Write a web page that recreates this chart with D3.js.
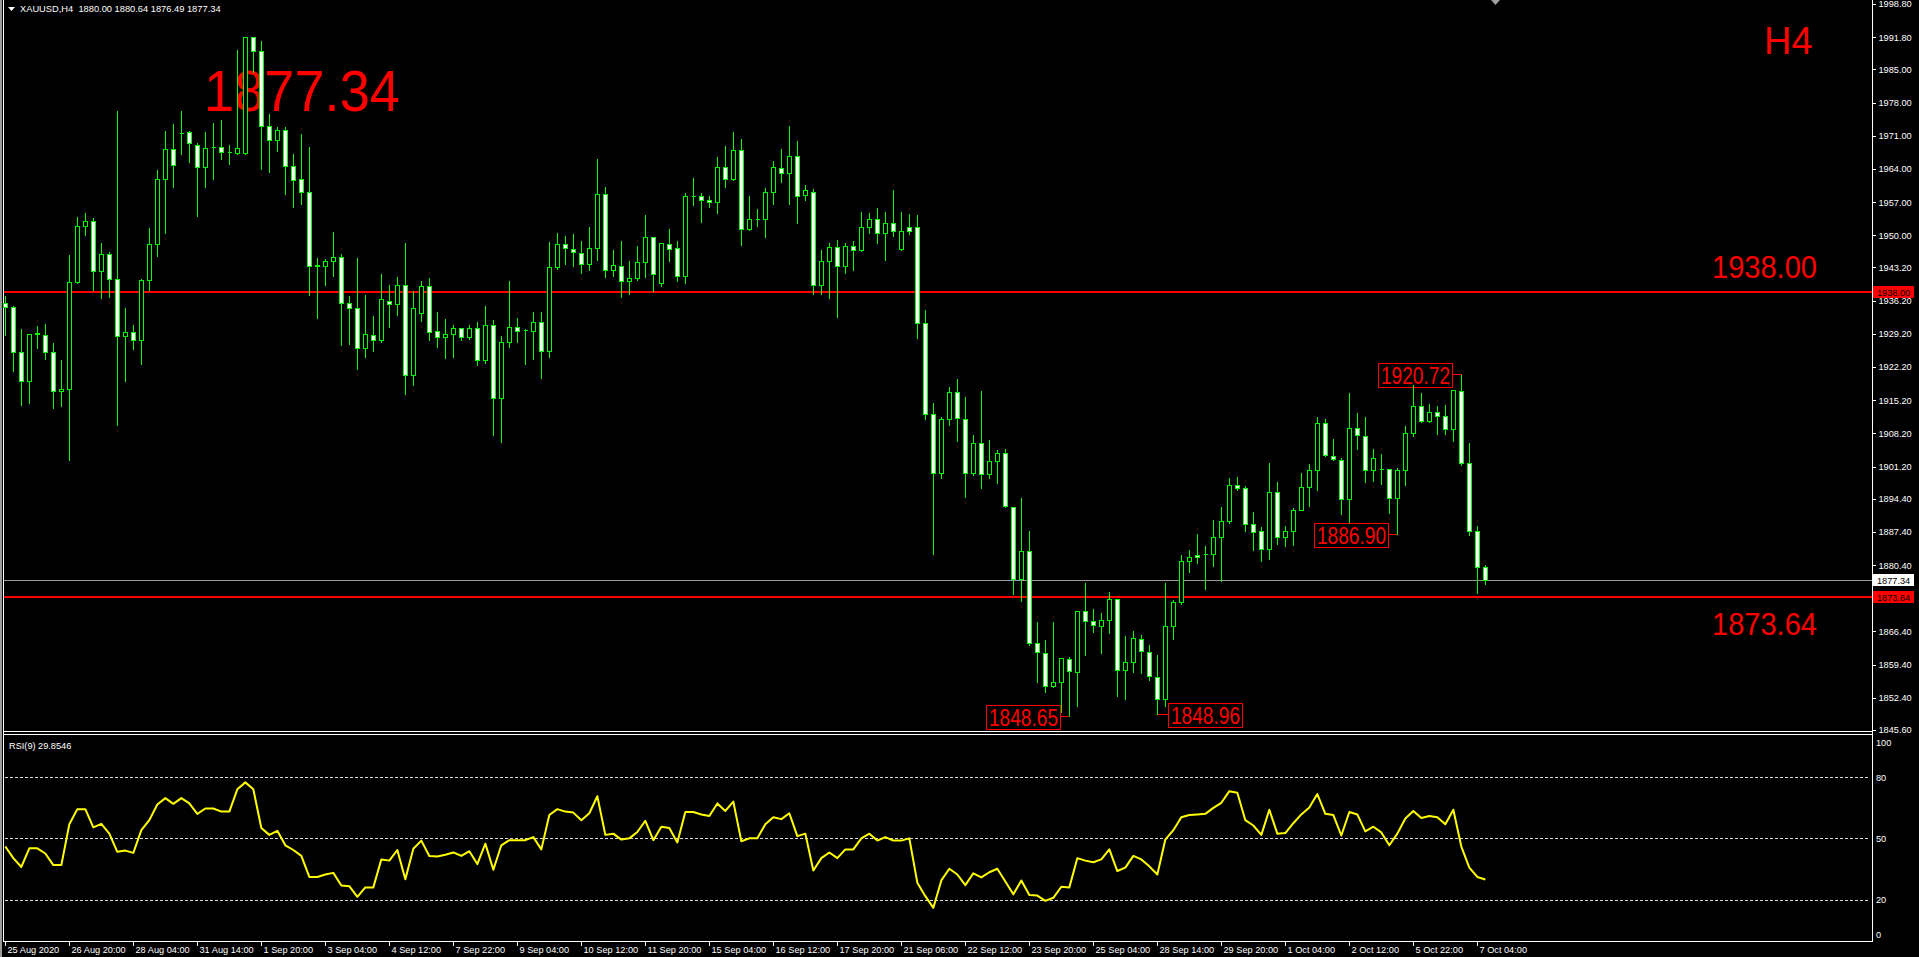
<!DOCTYPE html>
<html><head><meta charset="utf-8">
<script src="https://cdn.jsdelivr.net/npm/d3@7"></script>
<style>html,body{margin:0;padding:0;background:#000;overflow:hidden}text{font-family:"Liberation Sans",Arial,sans-serif}</style>
</head><body>
<svg id="c" width="1919" height="957"></svg>
<script>
const opens=[1935.8,1934.8,1925.3,1919.2,1929.4,1929.0,1925.3,1917.1,1917.5,1940.1,1951.9,1953.1,1942.4,1946.1,1940.8,1928.8,1929.6,1927.8,1940.5,1948.1,1961.9,1968.1,1971.6,1971.7,1969.0,1964.4,1968.6,1968.7,1967.5,1967.4,1967.4,1991.9,1988.8,1973.1,1970.0,1972.3,1964.7,1961.8,1959.1,1943.6,1943.6,1944.6,1945.5,1935.6,1934.6,1926.2,1929.0,1927.8,1936.2,1935.4,1939.6,1920.6,1933.5,1939.2,1929.7,1928.6,1929.1,1930.5,1928.6,1930.5,1923.6,1931.1,1915.6,1927.5,1930.7,1930.1,1929.9,1931.6,1925.5,1943.4,1948.2,1947.1,1946.3,1943.9,1947.3,1958.8,1942.6,1943.6,1940.4,1940.9,1944.4,1949.6,1939.9,1948.2,1947.3,1941.5,1958.3,1958.3,1957.5,1957.0,1964.4,1961.8,1968.0,1951.4,1953.5,1953.5,1959.1,1964.2,1963.2,1966.8,1958.5,1959.2,1939.5,1944.5,1947.6,1943.6,1947.8,1946.8,1951.7,1953.5,1950.4,1952.5,1947.2,1951.8,1951.8,1931.4,1912.2,1899.8,1911.2,1916.9,1911.3,1899.8,1906.2,1899.7,1902.3,1904.0,1892.7,1877.5,1883.3,1863.9,1861.8,1854.8,1855.8,1860.5,1857.9,1870.8,1868.5,1867.6,1868.9,1873.2,1858.3,1859.9,1864.9,1862.1,1856.8,1852.1,1867.5,1872.7,1881.2,1882.6,1882.7,1882.7,1886.4,1889.7,1897.4,1896.6,1889.0,1887.5,1883.8,1895.9,1886.3,1887.5,1892.1,1896.8,1900.5,1910.4,1903.5,1902.6,1894.3,1909.4,1907.7,1900.5,1900.6,1900.6,1894.6,1900.4,1908.2,1913.9,1910.8,1912.7,1911.8,1909.2,1917.2,1901.9,1887.5,1880.00];
const highs=[1937.4,1935.3,1930.5,1929.1,1931.0,1931.4,1927.5,1923.8,1946.1,1954.0,1955.0,1953.9,1948.6,1946.7,1976.4,1934.8,1931.2,1940.9,1951.8,1964.0,1972.3,1973.7,1976.4,1972.2,1969.6,1972.0,1973.9,1974.6,1969.2,1989.4,1992.1,1992.1,1991.3,1975.8,1973.1,1973.1,1967.4,1971.6,1968.9,1945.5,1945.3,1950.9,1946.3,1937.4,1945.5,1937.7,1933.1,1942.0,1939.8,1941.3,1948.6,1938.4,1940.6,1941.1,1934.1,1932.6,1931.2,1930.7,1931.2,1931.9,1935.3,1932.3,1929.0,1940.5,1932.7,1930.4,1934.1,1934.1,1948.8,1950.7,1950.0,1950.4,1949.1,1951.9,1966.3,1960.4,1947.0,1949.1,1944.7,1947.9,1954.5,1949.9,1948.3,1951.5,1949.1,1959.1,1962.3,1959.1,1958.6,1966.8,1969.0,1972.0,1970.5,1958.6,1955.7,1960.1,1965.9,1968.4,1973.3,1970.0,1960.8,1960.0,1947.1,1948.6,1949.2,1948.6,1948.9,1955.2,1954.9,1956.0,1955.2,1959.7,1955.2,1954.8,1954.5,1934.4,1914.8,1911.9,1918.2,1919.8,1916.1,1908.1,1917.4,1907.0,1904.8,1905.1,1892.7,1894.8,1887.8,1868.5,1864.9,1868.7,1860.9,1861.2,1870.8,1876.9,1871.3,1870.6,1874.9,1873.4,1865.6,1866.8,1865.9,1863.8,1861.6,1876.9,1873.3,1882.7,1883.8,1887.2,1884.7,1890.1,1892.8,1899.0,1899.2,1897.3,1891.9,1888.6,1902.1,1898.2,1888.9,1892.6,1900.0,1901.9,1911.9,1911.4,1907.2,1903.2,1916.9,1912.7,1911.8,1905.2,1904.0,1900.9,1901.1,1910.0,1918.6,1917.0,1914.5,1914.1,1914.3,1917.6,1920.72,1906.3,1888.9,1880.64];
const lows=[1929.0,1921.3,1914.1,1914.5,1926.3,1923.8,1913.6,1913.9,1902.5,1939.9,1950.0,1938.4,1936.8,1937.0,1909.9,1919.2,1925.9,1922.9,1938.4,1945.7,1950.5,1960.1,1967.1,1965.5,1954.1,1960.1,1961.8,1966.1,1965.0,1967.1,1967.1,1984.5,1964.0,1963.4,1967.8,1958.8,1955.9,1956.7,1937.3,1932.5,1939.6,1941.4,1926.9,1927.1,1921.7,1924.4,1925.5,1927.5,1930.6,1933.2,1916.4,1918.5,1931.9,1927.8,1926.5,1924.2,1924.4,1927.8,1928.1,1922.6,1923.1,1907.8,1906.3,1926.5,1927.4,1922.9,1923.8,1919.8,1924.4,1942.9,1944.0,1943.5,1942.1,1942.6,1944.8,1941.1,1941.5,1937.0,1937.5,1940.6,1941.1,1938.3,1939.2,1944.6,1940.4,1939.9,1956.4,1952.9,1955.9,1954.8,1960.1,1961.6,1947.9,1951.2,1951.9,1949.6,1956.7,1961.2,1956.5,1952.5,1957.5,1937.7,1937.7,1936.7,1932.7,1942.0,1942.7,1946.7,1950.4,1948.4,1944.8,1949.8,1946.8,1950.3,1928.3,1911.2,1882.8,1898.8,1910.0,1906.5,1894.7,1899.5,1896.6,1898.7,1897.8,1892.6,1874.3,1872.9,1863.6,1855.7,1853.7,1854.7,1849.5,1848.65,1850.7,1861.5,1866.2,1861.8,1866.0,1852.7,1852.2,1857.8,1857.6,1856.1,1848.96,1850.7,1864.7,1872.2,1878.9,1880.8,1875.3,1880.3,1877.1,1889.3,1896.2,1887.6,1883.6,1881.3,1881.7,1884.8,1884.5,1884.7,1892.0,1892.8,1896.2,1903.4,1902.6,1891.1,1889.5,1905.0,1898.0,1898.2,1897.6,1891.4,1886.9,1897.4,1907.7,1910.5,1910.5,1908.1,1908.1,1906.5,1901.5,1886.7,1874.6,1876.49];
const closes=[1934.8,1925.3,1919.2,1929.1,1929.2,1925.4,1917.1,1917.5,1940.1,1951.9,1953.1,1942.4,1946.1,1940.8,1928.8,1929.6,1927.8,1940.5,1948.1,1961.9,1968.1,1964.9,1971.6,1969.5,1964.4,1968.5,1968.7,1967.6,1967.5,1968.4,1991.9,1988.8,1973.1,1970.0,1972.3,1964.7,1961.6,1959.1,1943.6,1943.7,1944.6,1945.5,1935.7,1934.7,1926.2,1929.1,1927.8,1936.5,1935.4,1939.6,1920.6,1934.6,1939.2,1929.6,1928.6,1929.1,1930.5,1928.6,1930.5,1923.6,1931.1,1915.6,1927.4,1930.7,1929.9,1930.1,1931.6,1925.5,1943.4,1948.2,1947.3,1946.5,1943.9,1947.3,1958.8,1942.6,1943.7,1940.4,1940.9,1944.4,1949.7,1941.8,1948.3,1947.2,1941.5,1958.2,1958.3,1957.4,1957.0,1964.4,1961.8,1968.0,1951.4,1953.4,1953.5,1959.1,1964.3,1963.2,1966.8,1958.2,1959.5,1939.5,1944.5,1947.6,1943.6,1947.8,1946.8,1951.7,1953.5,1950.5,1952.5,1950.8,1950.8,1950.8,1931.5,1912.3,1899.8,1911.2,1916.9,1911.4,1899.8,1906.1,1899.7,1902.3,1904.0,1892.8,1877.5,1883.3,1863.9,1862.0,1854.8,1855.8,1860.7,1858.1,1870.8,1868.7,1867.8,1868.9,1873.2,1858.3,1859.9,1865.1,1862.3,1856.9,1852.1,1867.5,1872.7,1881.2,1882.2,1882.2,1882.7,1886.4,1889.7,1897.2,1896.6,1889.1,1887.3,1883.8,1895.9,1886.3,1887.5,1892.1,1896.8,1900.5,1910.4,1903.6,1902.8,1894.3,1909.4,1907.9,1900.5,1903.1,1900.7,1894.6,1900.4,1908.2,1913.9,1910.8,1912.7,1911.8,1909.2,1917.4,1901.9,1887.6,1880.0,1877.34];
const rsiValues=[46.0,40.3,36.0,45.1,45.1,42.6,36.9,36.9,56.9,64.3,64.3,55.4,57.1,52.3,43.4,44.0,42.9,54.0,58.9,66.6,69.7,66.9,69.7,67.1,62.0,64.6,64.6,63.1,63.1,74.0,77.4,74.0,55.1,51.7,53.7,46.6,44.3,41.4,31.1,31.1,32.3,33.1,26.9,26.6,21.4,26.0,26.0,39.7,39.1,44.3,30.0,44.9,48.9,41.4,41.1,42.0,43.1,41.4,43.7,37.4,47.4,34.6,46.6,49.1,49.1,49.1,50.6,44.6,61.4,64.3,63.1,62.6,58.9,62.3,70.6,51.7,52.3,49.4,50.0,53.1,58.6,49.1,55.7,55.1,48.0,62.9,62.9,61.7,60.9,67.1,63.4,68.0,48.6,50.0,50.0,56.9,60.3,59.4,62.3,51.1,52.3,34.3,40.3,43.1,40.3,44.6,44.6,50.0,52.3,48.9,50.6,48.9,48.9,50.0,28.3,21.7,16.0,29.4,35.1,32.3,27.1,32.9,30.9,33.4,35.1,28.9,22.6,29.4,22.3,22.0,19.4,20.9,26.3,26.0,40.3,39.1,38.3,39.7,44.6,34.0,35.7,41.4,39.7,36.3,32.3,49.4,54.0,60.3,61.4,61.7,62.0,64.9,67.4,73.1,72.3,58.9,56.3,51.7,64.0,52.3,52.6,57.4,61.7,65.1,71.7,62.0,61.4,51.4,62.9,61.7,53.4,55.7,52.9,46.6,52.3,59.7,63.4,60.0,60.9,60.3,56.9,64.0,46.0,35.7,31.1,29.8546];
const priceTicks=[1998.8,1991.8,1985.0,1978.0,1971.0,1964.0,1957.0,1950.0,1943.2,1936.2,1929.2,1922.2,1915.2,1908.2,1901.2,1894.4,1887.4,1880.4,1866.4,1859.4,1852.4,1845.6];
const timeLabels=["25 Aug 2020","26 Aug 20:00","28 Aug 04:00","31 Aug 14:00","1 Sep 20:00","3 Sep 04:00","4 Sep 12:00","7 Sep 22:00","9 Sep 04:00","10 Sep 12:00","11 Sep 20:00","15 Sep 04:00","16 Sep 12:00","17 Sep 20:00","21 Sep 06:00","22 Sep 12:00","23 Sep 20:00","25 Sep 04:00","28 Sep 14:00","29 Sep 20:00","1 Oct 04:00","2 Oct 12:00","5 Oct 22:00","7 Oct 04:00"];
const rsiLevels=[80,50,20];
const rsiAxisLabels=[100,80,50,20,0];
const levelPrices=[1938.00,1873.64];
const bidPrice=1877.34;
const annBars=[133,144,174,182];
const annPrices=[1848.65,1848.96,1886.90,1920.72];
const annSides=["left","right","left","left"];
const headerText="XAUUSD,H4  1880.00 1880.64 1876.49 1877.34";
const rsiTitle="RSI(9) 29.8546";

const N=closes.length;
const svg=d3.select("#c");
svg.append("rect").attr("width",1919).attr("height",957).attr("fill","#000");

const xS=d3.scaleLinear().domain([0,N-1]).range([5.33,5.33+8*(N-1)]);
const yS=d3.scaleLinear().domain([1845.6,1998.8]).range([730,4]);
const rS=d3.scaleLinear().domain([0,100]).range([940.5,736.2]);
const cx=i=>Math.floor(xS(i))+0.5;
const py=p=>Math.round(yS(p))+0.5;

// frame
svg.append("rect").attr("x",0).attr("y",0).attr("width",2).attr("height",957).attr("fill","#9a9a9a");
const frame=svg.append("g").attr("stroke","#fff").attr("stroke-width",1).attr("shape-rendering","crispEdges");
frame.append("line").attr("x1",3.5).attr("x2",3.5).attr("y1",0).attr("y2",941.5);
frame.append("line").attr("x1",1872.5).attr("x2",1872.5).attr("y1",0).attr("y2",941.5);
frame.append("line").attr("x1",3.5).attr("x2",1872.5).attr("y1",731.5).attr("y2",731.5);
frame.append("line").attr("x1",3.5).attr("x2",1872.5).attr("y1",734.5).attr("y2",734.5);
frame.append("line").attr("x1",3.5).attr("x2",1872.5).attr("y1",941.5).attr("y2",941.5);
svg.append("path").attr("d","M1491,0 L1500,0 L1495.5,5 Z").attr("fill","#a0a0a0");

// big texts (behind chart)
svg.append("text").attr("x",204).attr("y",111).attr("font-size",57).attr("fill","#ff0000")
  .attr("textLength",196).attr("lengthAdjust","spacingAndGlyphs").text(bidPrice.toFixed(2));
svg.append("text").attr("x",1764).attr("y",54).attr("font-size",38).attr("fill","#ff0000").text("H4");
svg.append("text").attr("x",1712).attr("y",278).attr("font-size",32).attr("fill","#ff0000")
  .attr("textLength",105).attr("lengthAdjust","spacingAndGlyphs").text(levelPrices[0].toFixed(2));
svg.append("text").attr("x",1712).attr("y",635).attr("font-size",32).attr("fill","#ff0000")
  .attr("textLength",105).attr("lengthAdjust","spacingAndGlyphs").text(levelPrices[1].toFixed(2));

// horizontal lines
svg.append("line").attr("x1",4).attr("x2",1872).attr("y1",py(bidPrice)).attr("y2",py(bidPrice))
  .attr("stroke","#9a9a9a").attr("stroke-width",1).attr("shape-rendering","crispEdges");
levelPrices.forEach(p=>{
  svg.append("line").attr("x1",4).attr("x2",1872).attr("y1",Math.round(yS(p))).attr("y2",Math.round(yS(p)))
    .attr("stroke","#ff0000").attr("stroke-width",2).attr("shape-rendering","crispEdges");
});

// annotations
const ann=svg.append("g");
annBars.forEach((b,k)=>{
  const y=py(annPrices[k]), x=cx(b);
  const bw=74, bh=24;
  const bx = annSides[k]==="left" ? x-10-bw : x+10;
  ann.append("line").attr("x1",annSides[k]==="left"?bx+bw:bx).attr("x2",x).attr("y1",y).attr("y2",y)
    .attr("stroke","#ff0000").attr("stroke-width",1).attr("shape-rendering","crispEdges");
  ann.append("rect").attr("x",Math.round(bx)+0.5).attr("y",Math.round(y-bh/2)).attr("width",bw).attr("height",bh)
    .attr("fill","none").attr("stroke","#ff0000").attr("stroke-width",1).attr("shape-rendering","crispEdges");
  ann.append("text").attr("x",Math.round(bx)+3).attr("y",Math.round(y)+8.5).attr("font-size",23).attr("fill","#ff0000")
    .attr("textLength",69).attr("lengthAdjust","spacingAndGlyphs").text(annPrices[k].toFixed(2));
});

// candles
const cg=svg.append("g").attr("shape-rendering","crispEdges");
d3.range(N).forEach(i=>{
  const x=cx(i);
  cg.append("line").attr("x1",x).attr("x2",x).attr("y1",py(highs[i])).attr("y2",py(lows[i]))
    .attr("stroke","#00ff00").attr("stroke-width",1);
  const yt=py(Math.max(opens[i],closes[i])), yb=py(Math.min(opens[i],closes[i]));
  const bear=closes[i]<opens[i];
  cg.append("path").attr("d",`M${x-2},${yt} H${x+2} V${yb} H${x-2} Z`)
    .attr("fill",bear?"#ffffff":"#000000").attr("stroke","#00ff00").attr("stroke-width",1);
});

// price axis
const pa=d3.axisRight(yS).tickValues(priceTicks).tickSize(3).tickPadding(3).tickFormat(d3.format(".2f"));
const pag=svg.append("g").attr("transform","translate(1872.5,0)").call(pa);
pag.select(".domain").remove();
pag.selectAll("line").attr("stroke","#fff").attr("shape-rendering","crispEdges");
pag.selectAll("text").attr("fill","#fff").attr("font-size",9.2).attr("font-family","Liberation Sans, Arial");

// right price labels
const plab=[{p:levelPrices[0],bg:"#ff0000"},{p:bidPrice,bg:"#ffffff"},{p:levelPrices[1],bg:"#ff0000"}];
plab.forEach(o=>{
  const y=Math.round(yS(o.p));
  svg.append("rect").attr("x",1873).attr("y",y-6).attr("width",41).attr("height",12).attr("fill",o.bg);
  svg.append("text").attr("x",1877).attr("y",y+3.5).attr("font-size",9.2).attr("fill","#000").text(o.p.toFixed(2));
});

// header
svg.append("path").attr("d","M8,7 L15,7 L11.5,11 Z").attr("fill","#fff");
svg.append("text").attr("x",20).attr("y",11.5).attr("font-size",9.3).attr("fill","#fff").attr("xml:space","preserve").text(headerText);

// RSI panel
const rg=svg.append("g");
rsiLevels.forEach(v=>{
  rg.append("line").attr("x1",5).attr("x2",1870).attr("y1",Math.round(rS(v))+0.5).attr("y2",Math.round(rS(v))+0.5)
    .attr("stroke","#d8d8d8").attr("stroke-width",1).attr("stroke-dasharray","3,2").attr("shape-rendering","crispEdges");
});
rg.append("path").datum(rsiValues).attr("fill","none").attr("stroke","#ffff00").attr("stroke-width",2)
  .attr("stroke-linejoin","round")
  .attr("d",d3.line().x((d,i)=>xS(i)).y(d=>rS(d)));
rg.append("text").attr("x",9).attr("y",748.5).attr("font-size",9.2).attr("fill","#fff").text(rsiTitle);
rsiAxisLabels.forEach(v=>{
  const y=Math.max(742,Math.min(934,rS(v)));
  rg.append("text").attr("x",1876).attr("y",y+3.5).attr("font-size",9.2).attr("fill","#fff").text(v);
});

// time axis
const ta=d3.axisBottom(xS).tickValues(d3.range(0,N,8)).tickSize(4).tickPadding(2)
  .tickFormat((d,i)=>timeLabels[i]);
const tag=svg.append("g").attr("transform","translate(0,941.5)").call(ta);
tag.select(".domain").remove();
tag.selectAll(".tick").attr("transform",d=>`translate(${cx(d)},0)`);
tag.selectAll("line").attr("stroke","#fff").attr("shape-rendering","crispEdges");
tag.selectAll("text").attr("fill","#fff").attr("font-size",9.2).attr("font-family","Liberation Sans, Arial")
  .attr("text-anchor","start").attr("x",2).attr("dy","0.65em");
</script>
</body></html>
